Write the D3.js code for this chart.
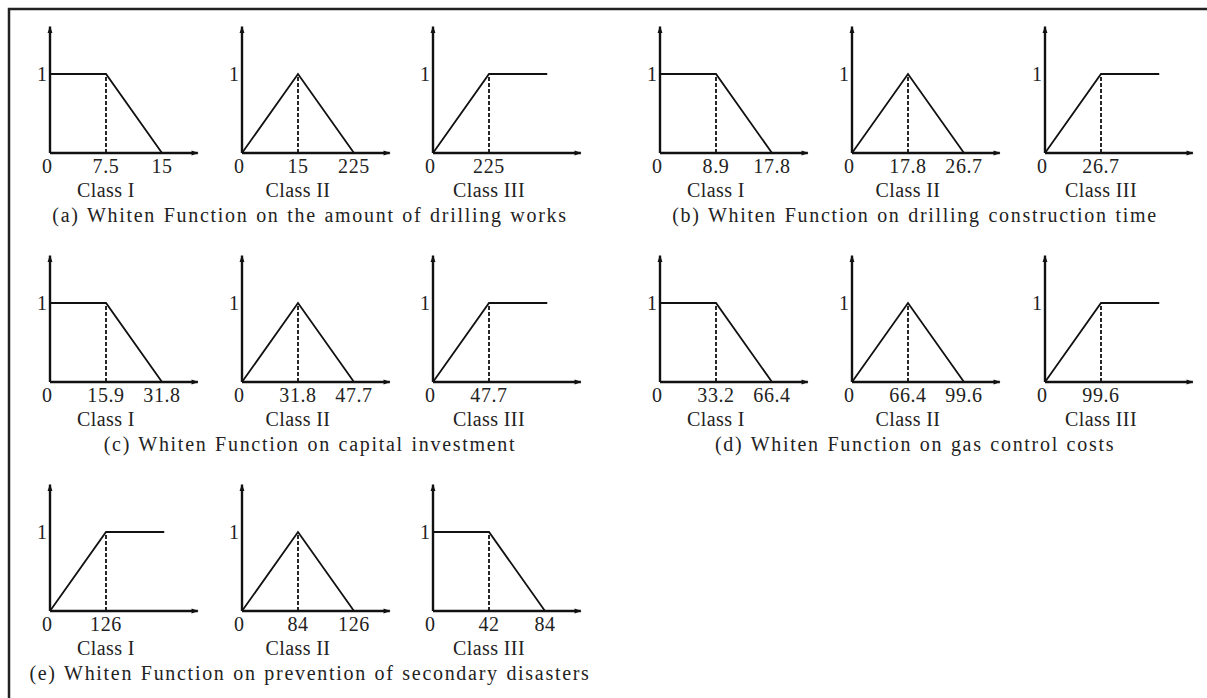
<!DOCTYPE html>
<html lang="en">
<head>
<meta charset="utf-8">
<title>Whiten Functions</title>
<script src="https://cdnjs.cloudflare.com/ajax/libs/d3/7.8.5/d3.min.js"></script>
<style>
  body { margin: 0; background: #fff; }
  svg text { font-family: "Liberation Serif", "Times New Roman", serif; fill: #222; }
</style>
</head>
<body>
<div id="chart"></div>
<script>
// panel captions
const captions = [
  "(a) Whiten Function on the amount of drilling works",
  "(b) Whiten Function on drilling construction time",
  "(c) Whiten Function on capital investment",
  "(d) Whiten Function on gas control costs",
  "(e) Whiten Function on prevention of secondary disasters"
];
const classNames = ["Class I", "Class II", "Class III"];

// shape of each whiten function: low = falling, mid = triangle, high = rising
const shapesA = ["low", "mid", "high"];
const shapesB = ["low", "mid", "high"];
const shapesC = ["low", "mid", "high"];
const shapesD = ["low", "mid", "high"];
const shapesE = ["high", "mid", "low"];

// breakpoint labels on the x axis
const ticksA = [["7.5", "15"], ["15", "225"], ["225"]];
const ticksB = [["8.9", "17.8"], ["17.8", "26.7"], ["26.7"]];
const ticksC = [["15.9", "31.8"], ["31.8", "47.7"], ["47.7"]];
const ticksD = [["33.2", "66.4"], ["66.4", "99.6"], ["99.6"]];
const ticksE = [["126"], ["84", "126"], ["42", "84"]];

// membership points (breakpoint index, membership)
const curves = {
  low:  [[0, 1], [1, 1], [2, 0]],
  mid:  [[0, 0], [1, 1], [2, 0]],
  high: [[0, 0], [1, 1], [2.04, 1]]
};

const panels = [
  {shapes: shapesA, ticks: ticksA},
  {shapes: shapesB, ticks: ticksB},
  {shapes: shapesC, ticks: ticksC},
  {shapes: shapesD, ticks: ticksD},
  {shapes: shapesE, ticks: ticksE}
];

const W = 1207, H = 698;
const svg = d3.select("#chart").append("svg").attr("width", W).attr("height", H);

svg.append("defs").append("marker")
  .attr("id", "arr")
  .attr("viewBox", "0 0 10 10")
  .attr("refX", 9).attr("refY", 5)
  .attr("markerWidth", 9).attr("markerHeight", 7)
  .attr("markerUnits", "userSpaceOnUse")
  .attr("orient", "auto")
  .append("path").attr("d", "M0,1.5L10,5L0,8.5Z").attr("fill", "#111");

// frame (top + left only)
svg.append("path")
  .attr("d", "M9,698V9H1207")
  .attr("fill", "none").attr("stroke", "#222").attr("stroke-width", 2.5);

const colX = [[50, 242, 433], [660, 852, 1045]];
const rowY = [153, 382, 611];
const captionX = [310, 915];

panels.forEach((p, pi) => {
  const col = pi % 2, row = Math.floor(pi / 2);
  const base = rowY[row];
  const y = d3.scaleLinear().domain([0, 1]).range([base, base - 79]);

  p.shapes.forEach((shape, si) => {
    const x0 = colX[col][si];
    const x = d3.scaleLinear().domain([0, 2]).range([x0, x0 + 112]);
    const g = svg.append("g");

    // axes with arrow heads
    g.append("line").attr("x1", x(0)).attr("y1", y(0)).attr("x2", x(0)).attr("y2", y(1.6))
      .attr("stroke", "#111").attr("stroke-width", 2.4).attr("marker-end", "url(#arr)");
    g.append("line").attr("x1", x(0)).attr("y1", y(0)).attr("x2", x(2.64)).attr("y2", y(0))
      .attr("stroke", "#111").attr("stroke-width", 2.4).attr("marker-end", "url(#arr)");

    // dashed drop line at breakpoint 1
    g.append("line").attr("x1", x(1)).attr("x2", x(1)).attr("y1", y(0)).attr("y2", y(1))
      .attr("stroke", "#111").attr("stroke-width", 1.8).attr("stroke-dasharray", "4,2");

    g.append("path")
      .attr("d", d3.line().x(d => x(d[0])).y(d => y(d[1]))(curves[shape]))
      .attr("fill", "none").attr("stroke", "#111").attr("stroke-width", 1.8);

    // labels
    g.append("text").attr("x", x(0) - 3).attr("y", y(1) + 7)
      .attr("text-anchor", "end").attr("font-size", 20).text("1");
    g.append("text").attr("x", x(0) - 3).attr("y", y(0) + 20)
      .attr("text-anchor", "middle").attr("font-size", 20).text("0");
    p.ticks[si].forEach((t, ti) => {
      g.append("text").attr("x", x(ti + 1)).attr("y", y(0) + 20)
        .attr("text-anchor", "middle").attr("font-size", 20)
        .attr("letter-spacing", 0.6).text(t);
    });
    g.append("text").attr("x", x(1)).attr("y", y(0) + 44)
      .attr("text-anchor", "middle").attr("font-size", 20)
      .attr("letter-spacing", 0.4).text(classNames[si]);
  });

  svg.append("text").attr("x", captionX[col]).attr("y", base + 69)
    .attr("text-anchor", "middle").attr("font-size", 20)
    .attr("letter-spacing", 1.7).attr("word-spacing", 1).text(captions[pi]);
});
</script>
</body>
</html>
